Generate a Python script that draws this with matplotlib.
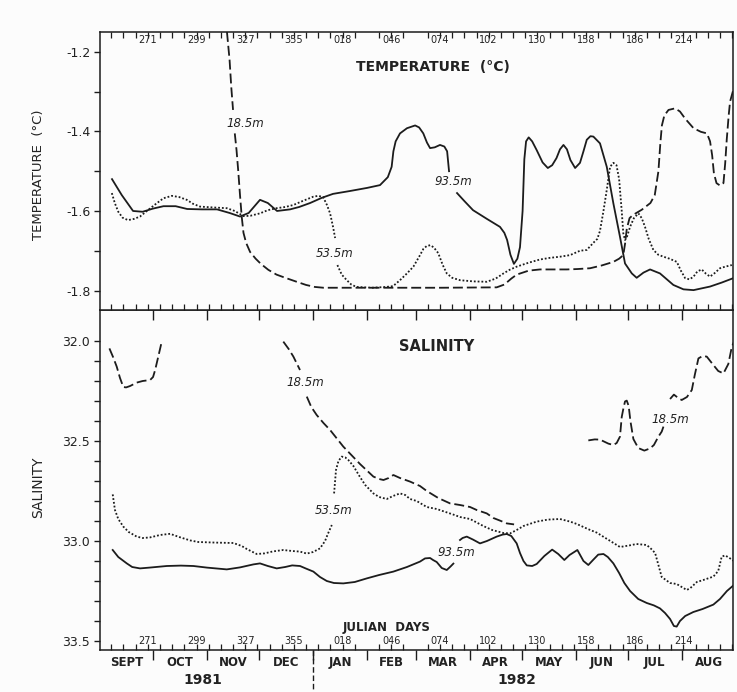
import numpy as np
import matplotlib
matplotlib.use("Agg")
import matplotlib.pyplot as plt
import matplotlib.transforms as mtransforms

plt.rcParams['font.family'] = ['DejaVu Sans']

# x axis = day count from 1 Jan 1981 (day 366 = 1 Jan 1982)

# ---- temperature, 93.5m (solid) ----
t93a_day = [250.4, 256, 262.5, 268, 274, 280, 287, 293.6, 302, 310.8, 318, 324, 329,
            335.5, 340, 345.3, 352.8, 358, 364.3, 371, 377.5, 387, 397.1, 404.5, 409,
            411.2, 412.2, 413.5, 416, 420, 424.7, 427, 429.4, 431.5, 433.3, 436, 439,
            441.5, 443.1, 444.2]
t93a_val = [-1.520, -1.560, -1.600, -1.602, -1.594, -1.588, -1.588, -1.595, -1.596,
            -1.596, -1.605, -1.614, -1.605, -1.572, -1.580, -1.600, -1.596, -1.590,
            -1.580, -1.567, -1.557, -1.550, -1.542, -1.535, -1.515, -1.489, -1.450,
            -1.425, -1.405, -1.392, -1.385, -1.390, -1.405, -1.428, -1.442, -1.440,
            -1.434, -1.438, -1.450, -1.500]
t93b_day = [448.8, 453, 458, 466, 473.5, 476, 477.6, 479.5, 481.5, 483.5, 485, 486.5,
            487.5, 488.5, 490, 492, 494.6, 498, 501, 503.5, 506, 508, 510, 512, 514,
            516.7, 519.5, 521.5, 523.4, 525.5, 527.2, 531, 534.9, 538.7, 542.5, 545.4,
            549.3, 552.1, 556, 559.8, 565.5, 573.2, 579, 584.8, 594.3, 601, 607.6]
t93b_val = [-1.555, -1.575, -1.598, -1.620, -1.640, -1.655, -1.673, -1.710, -1.733,
            -1.720, -1.691, -1.600, -1.470, -1.425, -1.415, -1.425, -1.447, -1.478,
            -1.492, -1.485, -1.467, -1.445, -1.434, -1.445, -1.472, -1.492, -1.479,
            -1.450, -1.421, -1.412, -1.413, -1.430, -1.489, -1.581, -1.665, -1.732,
            -1.757, -1.768, -1.755, -1.747, -1.757, -1.786, -1.797, -1.799, -1.790,
            -1.780, -1.769]

# ---- temperature, 53.5m (dotted) ----
t53a_day = [250.3, 252, 254, 256.5, 259.6, 263, 266.5, 271, 276, 280, 284.8, 289, 293.4,
            297, 301, 308, 316.4, 321, 326, 330, 335.5, 340, 345, 350, 354.7, 360,
            366.2, 369, 371.8, 374, 375.8, 377.5, 378.7]
t53a_val = [-1.555, -1.580, -1.602, -1.617, -1.623, -1.620, -1.614, -1.598, -1.581,
            -1.568, -1.562, -1.565, -1.572, -1.582, -1.589, -1.591, -1.593, -1.600,
            -1.613, -1.612, -1.606, -1.598, -1.593, -1.590, -1.585, -1.575, -1.564,
            -1.562, -1.565, -1.585, -1.606, -1.640, -1.668]
t53b_day = [380, 382.5, 385.4, 388, 391, 400, 408, 412, 416, 420, 423.7, 427, 429.5,
            431.4, 433.5, 435.5, 438, 440.5, 442.9, 446, 450.5, 458, 465.9, 471, 475.5,
            479, 483.1, 490, 496.5, 502, 508, 513.8, 519.5, 523.4, 527.2, 529.5, 531,
            533, 534.9, 536.8, 538.7, 540.5, 542, 543.5, 544.4, 545.4, 546.5, 548.3,
            550.5, 553.1, 555, 556.9, 559, 561.7, 564.5, 567.5, 571, 575.2, 577.5, 580,
            582.5, 584.8, 587, 589.5, 592, 594.3, 597, 600, 603, 606.8]
t53b_val = [-1.736, -1.760, -1.774, -1.785, -1.791, -1.793, -1.791, -1.789, -1.774,
            -1.757, -1.740, -1.715, -1.695, -1.688, -1.686, -1.692, -1.706, -1.735,
            -1.757, -1.768, -1.774, -1.777, -1.778, -1.770, -1.757, -1.748, -1.740,
            -1.730, -1.722, -1.718, -1.715, -1.711, -1.700, -1.698, -1.680, -1.670,
            -1.650, -1.600, -1.547, -1.489, -1.479, -1.485, -1.520, -1.600, -1.656,
            -1.673, -1.665, -1.640, -1.618, -1.606, -1.618, -1.640, -1.670, -1.698,
            -1.710, -1.715, -1.720, -1.728, -1.750, -1.769, -1.772, -1.765, -1.752,
            -1.747, -1.758, -1.765, -1.756, -1.744, -1.740, -1.736]

# ---- temperature, 18.5m (dashed) ----
t18a_day = [316.5, 318, 319, 320]
t18a_val = [-1.150, -1.220, -1.290, -1.346]
t18b_day = [321, 322, 323, 324, 325, 326, 327.5, 329.8, 333, 336, 340.3, 345, 350,
            356.6, 362, 367, 372, 400, 440, 471.6, 476, 480, 483.1, 490, 496.5, 505,
            511.9, 518, 525.3, 532, 538.7, 542, 544.4, 545.5, 546.4, 548, 550, 555,
            560, 562.5, 564.6, 565.7, 566.6, 568, 570.4, 574.2, 577, 580, 584.8, 589,
            592.5, 594.3, 595.5, 596.5, 598, 600, 602, 603, 603.9, 605, 605.8, 607.5]
t18b_val = [-1.405, -1.447, -1.500, -1.560, -1.615, -1.655, -1.680, -1.703, -1.720,
            -1.733, -1.748, -1.760, -1.768, -1.778, -1.786, -1.791, -1.793, -1.793,
            -1.793, -1.792, -1.785, -1.770, -1.760, -1.750, -1.747, -1.747, -1.747,
            -1.746, -1.744, -1.737, -1.728, -1.720, -1.711, -1.680, -1.645, -1.618,
            -1.610, -1.597, -1.580, -1.560, -1.500, -1.430, -1.385, -1.360, -1.346,
            -1.342, -1.350, -1.368, -1.392, -1.401, -1.405, -1.425, -1.460, -1.505,
            -1.530, -1.536, -1.530, -1.480, -1.420, -1.360, -1.325, -1.298]

# ---- salinity, 93.5m (solid) ----
s93a_day = [250.8, 254, 258.9, 262, 266.5, 272, 281.9, 290, 297.2, 305, 316.4, 324,
            331.7, 335.5, 340, 345.1, 350, 354, 358.5, 362, 366.2, 370, 373.9, 378,
            383.4, 390, 396.9, 404, 412.2, 420, 427.5, 430.4, 433.3, 435, 437.1, 440,
            442.9, 445, 446.7]
s93a_val = [33.045, 33.080, 33.112, 33.130, 33.137, 33.133, 33.125, 33.123, 33.125,
            33.133, 33.142, 33.132, 33.117, 33.112, 33.125, 33.137, 33.130, 33.122,
            33.125, 33.138, 33.153, 33.180, 33.200, 33.210, 33.212, 33.205, 33.187,
            33.170, 33.153, 33.130, 33.103, 33.087, 33.085, 33.095, 33.105, 33.135,
            33.145, 33.128, 33.113]
s93b_day = [450.5, 452, 454.4, 458, 462, 466, 471.6, 475, 477.4, 480, 483.1, 485, 487,
            488.9, 492, 494.6, 499, 503.5, 507, 510.5, 513.5, 518, 521.5, 524.3, 527,
            530, 533, 535.5, 538.7, 542, 545, 548.3, 553, 557.9, 562, 565.5, 568.4,
            571.3, 573.5, 575.1, 577, 580, 584.7, 590, 596.2, 600, 604, 608]
s93b_val = [32.995, 32.985, 32.978, 32.993, 33.012, 33.000, 32.978, 32.968, 32.965,
            32.975, 33.012, 33.060, 33.100, 33.122, 33.125, 33.115, 33.075, 33.043,
            33.065, 33.095, 33.070, 33.045, 33.100, 33.120, 33.095, 33.068, 33.065,
            33.080, 33.112, 33.160, 33.210, 33.250, 33.290, 33.310, 33.322, 33.337,
            33.360, 33.390, 33.425, 33.428, 33.400, 33.375, 33.355, 33.340, 33.318,
            33.290, 33.250, 33.220]

# ---- salinity, 53.5m (dotted) ----
s53a_day = [250.8, 252.1, 254, 256.9, 260, 264.6, 268, 272.3, 278, 283.8, 289, 295.3,
            300, 310, 320.2, 325, 327.9, 333.6, 338, 343, 348.9, 354, 358.5, 362.4, 366,
            370, 372.9, 374.5, 376.8]
s53a_val = [32.767, 32.845, 32.890, 32.928, 32.955, 32.978, 32.985, 32.982, 32.970,
            32.964, 32.980, 32.997, 33.005, 33.008, 33.010, 33.025, 33.040, 33.065,
            33.062, 33.052, 33.045, 33.050, 33.053, 33.063, 33.055, 33.037, 33.000,
            32.965, 32.920]
s53b_day = [378.1, 379.2, 380.6, 382.5, 384.5, 386.3, 389.2, 393, 396, 400.7, 404,
            408.4, 412, 416, 419, 421.8, 425.6, 431.4, 437.1, 446.7, 450.5, 456.3,
            463.9, 469, 475.5, 479.3, 483.1, 487, 494.6, 501, 508, 513.8, 517.7, 524,
            529.1, 536, 542.5, 548, 552, 557.9, 560.5, 562.7, 564.6, 566.5, 571.3,
            575.1, 578, 580.9, 583, 586.7, 590.4, 596.2, 599, 601, 603, 605.8, 608]
s53b_val = [32.762, 32.645, 32.600, 32.578, 32.582, 32.595, 32.625, 32.680, 32.720,
            32.762, 32.780, 32.790, 32.775, 32.762, 32.770, 32.790, 32.800, 32.830,
            32.840, 32.868, 32.880, 32.890, 32.925, 32.945, 32.960, 32.962, 32.945,
            32.925, 32.903, 32.893, 32.890, 32.903, 32.915, 32.940, 32.958, 32.995,
            33.030, 33.022, 33.015, 33.020, 33.040, 33.060, 33.120, 33.180, 33.210,
            33.215, 33.230, 33.245, 33.235, 33.205, 33.195, 33.178, 33.150, 33.078,
            33.072, 33.087, 33.100]

# ---- salinity, 18.5m (dashed) ----
s18a_day = [248.9, 251, 253.1, 255, 256.9, 258.5, 260.8, 264.6, 268, 272.3, 274,
            275.2, 277, 279]
s18a_val = [32.037, 32.080, 32.128, 32.185, 32.230, 32.232, 32.225, 32.208, 32.200,
            32.195, 32.180, 32.145, 32.078, 32.003]
s18b_day = [348.9, 352, 354.7, 356.5, 358.5]
s18b_val = [32.003, 32.040, 32.078, 32.110, 32.145]
s18c_day = [362.4, 365, 368.1, 372, 375.8, 383.4, 393, 400.7, 404, 406.5, 409.5, 412.2,
            416, 421.8, 427.5, 431.4, 438, 444.8, 450.5, 456.3, 460.1, 465.9, 469.7,
            473.5, 477.4, 481.6]
s18c_val = [32.278, 32.330, 32.370, 32.410, 32.445, 32.528, 32.615, 32.678, 32.690,
            32.695, 32.685, 32.670, 32.685, 32.703, 32.725, 32.750, 32.785, 32.812,
            32.820, 32.830, 32.845, 32.862, 32.885, 32.898, 32.912, 32.917]
s18d_day = [524.3, 528, 531, 535.8, 538.7, 540.6, 542.5, 543.5, 544.4, 545.4, 546.4,
            547.5, 548.5, 550.2, 553, 556.5, 559.8, 562, 564.6, 566.5, 567.5]
s18d_val = [32.497, 32.492, 32.493, 32.513, 32.520, 32.510, 32.478, 32.380, 32.340,
            32.302, 32.298, 32.325, 32.400, 32.490, 32.535, 32.548, 32.537, 32.520,
            32.478, 32.453, 32.428]
s18e_day = [571.3, 573.5, 576, 578, 581, 583.8, 585.5, 587.6, 590, 592.4, 596.2, 599,
            602, 604.8, 606.8, 608]
s18e_val = [32.290, 32.268, 32.285, 32.295, 32.280, 32.245, 32.170, 32.087, 32.075,
            32.078, 32.120, 32.150, 32.162, 32.115, 32.030, 32.005]

# axis labelling
julian_days = [271, 299, 327, 355, 383, 411, 439, 467, 495, 523, 551, 579]
julian_labels = ['271', '299', '327', '355', '018', '046', '074', '102', '130', '158',
                 '186', '214']
month_starts = [244, 274, 305, 335, 366, 397, 425, 456, 486, 517, 547, 578, 609]
month_names = ['SEPT', 'OCT', 'NOV', 'DEC', 'JAN', 'FEB', 'MAR', 'APR', 'MAY', 'JUN',
               'JUL', 'AUG']
years = ['1981', '1982']
year_pos = [302.7, 483.3]

INK = '#1c1c1c'
SOLID = dict(color=INK, lw=1.3, ls='-')
DOTS = dict(color=INK, lw=1.3, ls=(0, (1, 1.1)))
DASH = dict(color=INK, lw=1.3, ls=(0, (5.5, 2.2)))

fig = plt.figure(figsize=(7.37, 6.92), dpi=100)
fig.patch.set_facecolor('#fcfcfc')
ax1 = fig.add_axes([0.1357, 0.5520, 0.8589, 0.4018])
ax2 = fig.add_axes([0.1357, 0.0607, 0.8589, 0.4913])
ax1.set_zorder(2)
for ax in (ax1, ax2):
    ax.set_facecolor('#fcfcfc')
    for s in ax.spines.values():
        s.set_linewidth(1.1)
        s.set_color(INK)

# ---------------- temperature ----------------
ax1.plot(t93a_day, t93a_val, **SOLID)
ax1.plot(t93b_day, t93b_val, **SOLID)
ax1.plot(t53a_day, t53a_val, **DOTS)
ax1.plot(t53b_day, t53b_val, **DOTS)
ax1.plot(t18a_day, t18a_val, **DASH)
ax1.plot(t18b_day, t18b_val, **DASH)
ax1.set_xlim(243.5, 607.5)
ax1.set_ylim(-1.849, -1.150)
ax1.set_yticks([-1.2, -1.4, -1.6, -1.8])
ax1.set_yticks([-1.3, -1.5, -1.7], minor=True)
ax1.set_yticklabels(['-1.2', '-1.4', '-1.6', '-1.8'])

# ---------------- salinity ----------------
ax2.plot(s93a_day, s93a_val, **SOLID)
ax2.plot(s93b_day, s93b_val, **SOLID)
ax2.plot(s53a_day, s53a_val, **DOTS)
ax2.plot(s53b_day, s53b_val, **DOTS)
for dd, vv in ((s18a_day, s18a_val), (s18b_day, s18b_val), (s18c_day, s18c_val),
               (s18d_day, s18d_val), (s18e_day, s18e_val)):
    ax2.plot(dd, vv, **DASH)
ax2.set_xlim(243.5, 607.5)
ax2.set_ylim(33.545, 31.845)
ax2.set_yticks([32.0, 32.5, 33.0, 33.5])
ax2.set_yticks([32.1, 32.2, 32.3, 32.4, 32.6, 32.7, 32.8, 32.9, 33.1, 33.2, 33.3, 33.4],
               minor=True)
ax2.set_yticklabels(['32.0', '32.5', '33.0', '33.5'])

# ticks: weekly minor ticks inward, month ticks outward (downwards)
weeks = np.arange(250, 608, 7)
for ax in (ax1, ax2):
    ax.set_xticks(month_starts[1:-1])
    ax.set_xticks(weeks, minor=True)
    ax.tick_params(axis='x', which='major', direction='out', length=7, width=1.0,
                   top=False, bottom=True, labelbottom=False, color=INK)
    ax.tick_params(axis='x', which='minor', direction='in', length=4, width=0.9,
                   bottom=True, color=INK)
    ax.tick_params(axis='y', which='both', direction='out', length=4, width=1.0,
                   right=False, labelsize=9, labelcolor='#222222', pad=3, color=INK)
ax1.tick_params(axis='x', which='minor', top=True)
ax2.tick_params(axis='x', which='minor', top=False)

# julian day labels
tr1 = mtransforms.blended_transform_factory(ax1.transData, ax1.transAxes)
tr2 = mtransforms.blended_transform_factory(ax2.transData, ax2.transAxes)
for d, lab in zip(julian_days, julian_labels):
    ax1.text(d, 0.971, lab, transform=tr1, ha='center', va='center', fontsize=7,
             color='#222222')
    ax2.text(d, 0.027, lab, transform=tr2, ha='center', va='center', fontsize=7,
             color='#222222')
ax2.text(408, 0.066, 'JULIAN  DAYS', transform=tr2, ha='center', va='center',
         fontsize=8.5, fontweight='bold', color='#222222')

# month and year labels
for i, name in enumerate(month_names):
    mid = (month_starts[i] + month_starts[i + 1]) / 2
    ax2.text(mid, -0.036, name, transform=tr2, ha='center', va='center', fontsize=8.5,
             fontweight='bold', color='#222222', clip_on=False)
for y, p in zip(years, year_pos):
    ax2.text(p, -0.088, y, transform=tr2, ha='center', va='center', fontsize=10,
             fontweight='bold', color='#222222', clip_on=False)
ax2.plot([366, 366], [0, -0.13], transform=tr2, color=INK, lw=1.0,
         ls=(0, (4, 2)), clip_on=False)

# panel titles and axis labels
ax1.text(0.526, 0.874, 'TEMPERATURE  (°C)', transform=ax1.transAxes, ha='center',
         va='center', fontsize=10, fontweight='bold', color='#222222')
ax2.text(0.531, 0.894, 'SALINITY', transform=ax2.transAxes, ha='center', va='center',
         fontsize=10.5, fontweight='bold', color='#222222')
ax1.set_ylabel('TEMPERATURE  (°C)', fontsize=9.5, color='#222222')
ax1.yaxis.set_label_coords(-0.087, 0.486)
ax2.set_ylabel('SALINITY', fontsize=10, color='#222222')
ax2.yaxis.set_label_coords(-0.087, 0.479)

# depth labels
lab = dict(ha='center', va='center', fontsize=8.5, style='italic', color='#222222')
ax1.text(327, -1.379, '18.5m', **lab)
ax1.text(378.7, -1.706, '53.5m', **lab)
ax1.text(446.5, -1.527, '93.5m', **lab)
ax2.text(361.4, 32.208, '18.5m', **lab)
ax2.text(377.7, 32.849, '53.5m', **lab)
ax2.text(448.6, 33.057, '93.5m', **lab)
ax2.text(571.5, 32.39, '18.5m', **lab)

fig.savefig('out.png', dpi=100, facecolor=fig.get_facecolor())
